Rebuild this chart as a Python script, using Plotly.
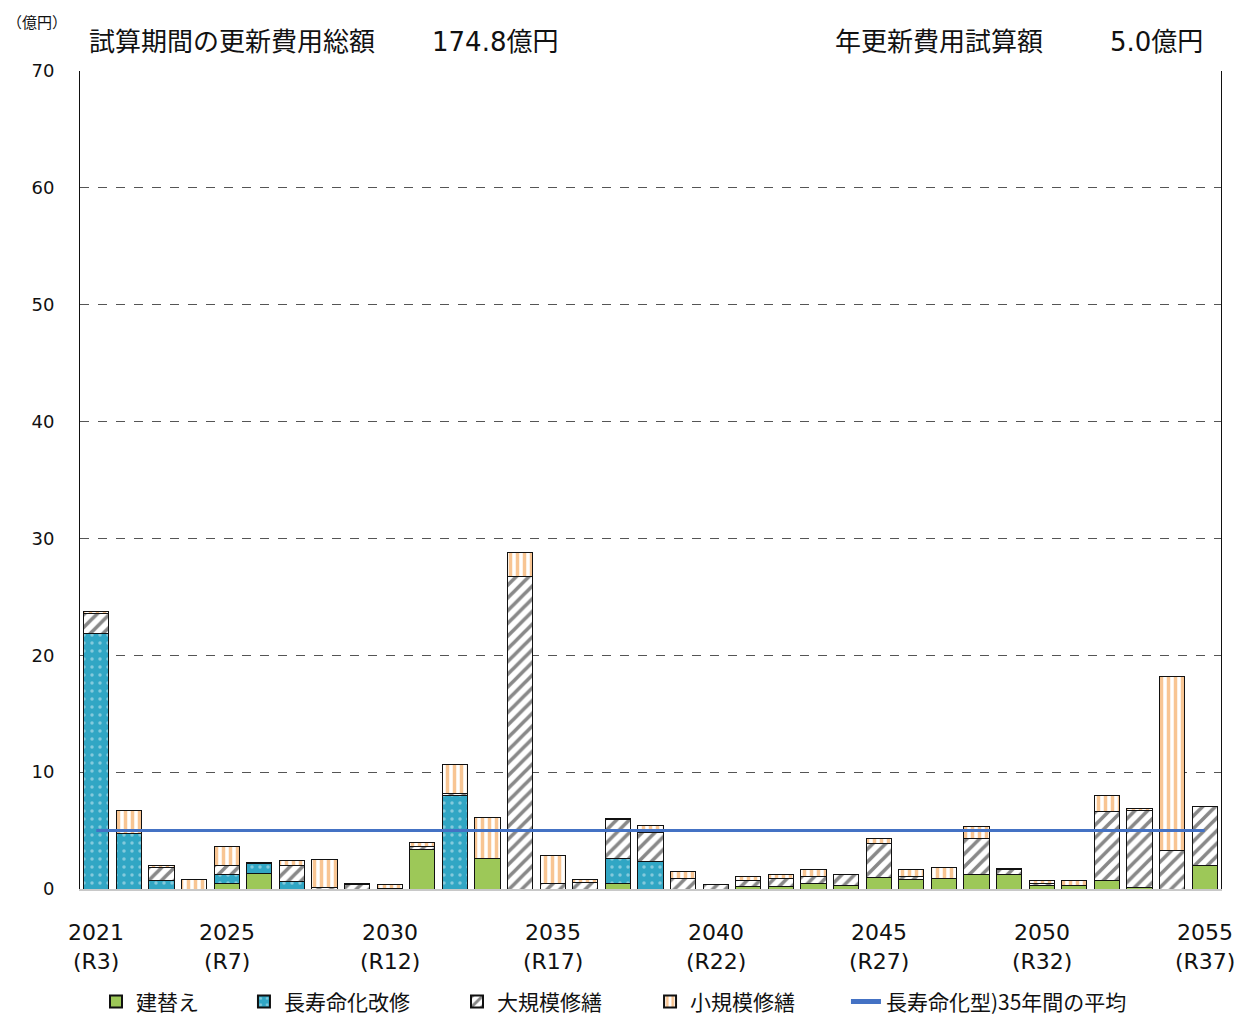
import plotly.graph_objects as go

years = list(range(2021, 2056))
rebuild = [0, 0, 0, 0, 0.5, 1.35, 0, 0, 0, 0, 3.4, 0, 2.62, 0, 0, 0, 0.5, 0, 0, 0,
           0.2, 0.2, 0.48, 0.31, 1.0, 0.83, 0.91, 1.2, 1.2, 0.29, 0.31, 0.71, 0.17, 0, 2.03]
longlife = [21.9, 4.76, 0.77, 0, 0.75, 0.8, 0.63, 0, 0, 0, 0, 8.0, 0, 0, 0, 0, 2.13, 2.37, 0, 0,
            0, 0, 0, 0, 0, 0, 0, 0, 0, 0, 0, 0, 0, 0, 0]
major = [1.65, 0, 1.08, 0, 0.74, 0.1, 1.34, 0.12, 0.35, 0.05, 0.22, 0.2, 0, 26.7, 0.43, 0.54, 3.28, 2.45, 0.91, 0.35,
         0.57, 0.74, 0.6, 0.89, 2.9, 0.22, 0, 3.14, 0.51, 0.19, 0, 5.94, 6.59, 3.31, 5.07]
minor = [0.23, 1.94, 0.2, 0.8, 1.65, 0, 0.45, 2.4, 0.08, 0.3, 0.34, 2.42, 3.5, 2.1, 2.45, 0.26, 0.15, 0.63, 0.6, 0.05,
         0.28, 0.29, 0.6, 0.05, 0.43, 0.63, 0.94, 0.97, 0.05, 0.26, 0.43, 1.37, 0.17, 14.86, 0]
avg_value = 5.0
tick_years = [2021, 2025, 2030, 2035, 2040, 2045, 2050, 2055]
tick_years_text = ["2021", "2025", "2030", "2035", "2040", "2045", "2050", "2055"]
tick_era_text = ["(R3)", "(R7)", "(R12)", "(R17)", "(R22)", "(R27)", "(R32)", "(R37)"]
names = ["建替え", "長寿命化改修", "大規模修繕", "小規模修繕", "長寿命化型)35年間の平均"]

FONT = "DejaVu Sans, Noto Sans CJK JP"
CJK = "Noto Sans CJK JP"
fig = go.Figure()
line_style = dict(color="#111111", width=1)

fig.add_trace(go.Bar(x=years, y=rebuild, name=names[0], legend="legend",
                     marker=dict(color="#9DC858", line=line_style)))
fig.add_trace(go.Bar(x=years, y=longlife, name=names[1], legend="legend2",
                     marker=dict(color="#31A6C4", line=line_style,
                                 pattern=dict(shape=".", fgcolor="#D8EEF4", bgcolor="#31A6C4",
                                              size=8, solidity=0.15))))
fig.add_trace(go.Bar(x=years, y=major, name=names[2], legend="legend3",
                     marker=dict(color="white", line=line_style,
                                 pattern=dict(shape="/", fgcolor="#111111", bgcolor="white",
                                              size=9, solidity=0.4))))
fig.add_trace(go.Bar(x=years, y=minor, name=names[3], legend="legend4",
                     marker=dict(color="white", line=line_style,
                                 pattern=dict(shape="|", fgcolor="#F28C28", bgcolor="white",
                                              size=7, solidity=0.5))))
fig.add_trace(go.Scatter(x=[years[0], years[-1]], y=[avg_value, avg_value], name=names[4],
                         legend="legend5", mode="lines", line=dict(color="#4472C4", width=3)))

leg_common = dict(orientation="h", y=-0.138, xanchor="left", yanchor="middle",
                  font=dict(size=21, family=CJK, color="#111111"), bgcolor="rgba(0,0,0,0)",
                  itemsizing="constant", tracegroupgap=0)
leg_x = [0.014, 0.1437, 0.3304, 0.4996, 0.6713]

fig.update_layout(
    barmode="stack",
    bargap=0.23,
    width=1251, height=1011,
    margin=dict(l=72, r=38, t=63, b=130, autoexpand=False),
    paper_bgcolor="white", plot_bgcolor="white",
    font=dict(family=FONT, color="#111111"),
    showlegend=True,
    legend=dict(leg_common, x=leg_x[0]),
    legend2=dict(leg_common, x=leg_x[1]),
    legend3=dict(leg_common, x=leg_x[2]),
    legend4=dict(leg_common, x=leg_x[3]),
    legend5=dict(leg_common, x=leg_x[4]),
)
fig.update_xaxes(range=[2020.5, 2055.5], tickmode="array", tickvals=tick_years,
                 showticklabels=False, showgrid=False, showline=True,
                 linecolor="#C8C8C8", linewidth=2, ticks="")
fig.update_yaxes(range=[0, 70], dtick=10, tickfont=dict(size=18, family=FONT, color="#111111"),
                 showgrid=True, gridcolor="#555555", griddash="dash", gridwidth=1,
                 showline=True, linecolor="#111111", linewidth=1, mirror=True,
                 ticks="", ticklabelstandoff=21, zeroline=False)

for yr, t1, t2 in zip(tick_years, tick_years_text, tick_era_text):
    fig.add_annotation(xref="x", yref="paper", x=yr, y=-0.0526, text=t1, showarrow=False,
                       xanchor="center", yanchor="middle",
                       font=dict(size=22, family=FONT, color="#111111"))
    fig.add_annotation(xref="x", yref="paper", x=yr, y=-0.0892, text=t2, showarrow=False,
                       xanchor="center", yanchor="middle",
                       font=dict(size=22, family=FONT, color="#111111"))

anns = [
    dict(x=-0.066, y=1.06, text="（億円）", size=15, fam=CJK),
    dict(x=0.006, y=1.0355, text="試算期間の更新費用総額", size=26, fam=FONT),
    dict(x=0.307, y=1.0355, text="174.8億円", size=26, fam=FONT),
    dict(x=0.66, y=1.0355, text="年更新費用試算額", size=26, fam=FONT),
    dict(x=0.901, y=1.0355, text="5.0億円", size=26, fam=FONT),
]
for a in anns:
    fig.add_annotation(xref="paper", yref="paper", x=a["x"], y=a["y"], text=a["text"],
                       showarrow=False, xanchor="left", yanchor="middle",
                       font=dict(size=a["size"], family=a["fam"], color="#111111"))

fig.write_html("out.html")
